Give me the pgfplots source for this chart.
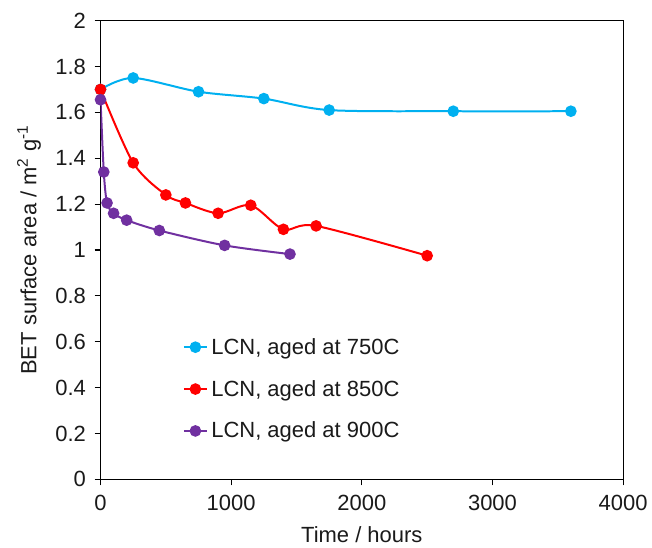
\documentclass[border=0pt]{standalone}
\usepackage{fontspec}
\setmainfont{Liberation Sans}
\usepackage{pgfplots}
\pgfplotsset{compat=1.18}
\definecolor{c750}{HTML}{00B0F0}
\definecolor{c850}{HTML}{FF0000}
\definecolor{c900}{HTML}{7030A0}
\definecolor{txt}{HTML}{1A1A1A}
\begin{document}
\begin{tikzpicture}
\begin{axis}[
  scale only axis, width=392.5pt, height=344.5pt,
  xmin=0, xmax=4000, ymin=0, ymax=2,
  xtick={0,1000,2000,3000,4000},
  ytick={0,0.2,0.4,0.6,0.8,1,1.2,1.4,1.6,1.8,2},
  yticklabels={0,0.2,0.4,0.6,0.8,1,1.2,1.4,1.6,1.8,2},
  /pgf/number format/assume math mode=true,
  /pgf/number format/set thousands separator={},
  tick align=outside, xtick pos=left, ytick pos=left,
  major tick length=4.5pt,
  axis line style={black, line width=0.9pt},
  tick style={black, line width=0.9pt},
  font=\fontsize{16.5}{19}\selectfont,
  ticklabel style={font=\fontsize{16.5}{19}\selectfont, text=txt},
  yticklabel style={xshift=-3pt},
  xticklabel style={yshift=-4pt},
  label style={font=\fontsize{16.5}{19}\selectfont, text=txt},
  xlabel={Time / hours},
  xlabel style={yshift=-5pt},
  ylabel={BET surface area / m\textsuperscript{2} g\textsuperscript{-1}},
  ylabel style={yshift=4pt},
  legend style={draw=none, fill=none, at={(0.157,0.314)}, anchor=north west,
    row sep=14pt, font=\fontsize{16.5}{19}\selectfont, text=txt,
    inner sep=0pt, nodes={inner xsep=2.5pt}},
  legend cell align=left,
  legend image code/.code={\draw[mark repeat=2,mark phase=2] plot coordinates {(0pt,0pt)(8.7pt,0pt)(17.4pt,0pt)};},
  every axis plot/.append style={line width=1.5pt, mark=*, mark size=3.6pt, smooth, tension=0.5, mark options={solid}},
]
\addplot[color=c750] coordinates {
(0,1.70) (250,1.75) (750,1.69) (1250,1.66) (1750,1.61) (2700,1.605) (3600,1.605)};
\addlegendentry{LCN, aged at 750C}
\addplot[color=c850] coordinates {
(0,1.70) (250,1.38) (500,1.24) (650,1.205) (900,1.16) (1150,1.195) (1400,1.09) (1650,1.105) (2500,0.975)};
\addlegendentry{LCN, aged at 850C}
\addplot[color=c900] coordinates {
(0,1.655) (25,1.34) (50,1.205) (100,1.16) (200,1.13) (450,1.085) (950,1.02) (1450,0.982)};
\addlegendentry{LCN, aged at 900C}
\end{axis}
\path (current axis.south west) ++(-75.5pt,-50.5pt) coordinate (bbA);
\path (current axis.north east) ++(21pt,15.5pt) coordinate (bbB);
\useasboundingbox (bbA) rectangle (bbB);
\end{tikzpicture}
\end{document}
